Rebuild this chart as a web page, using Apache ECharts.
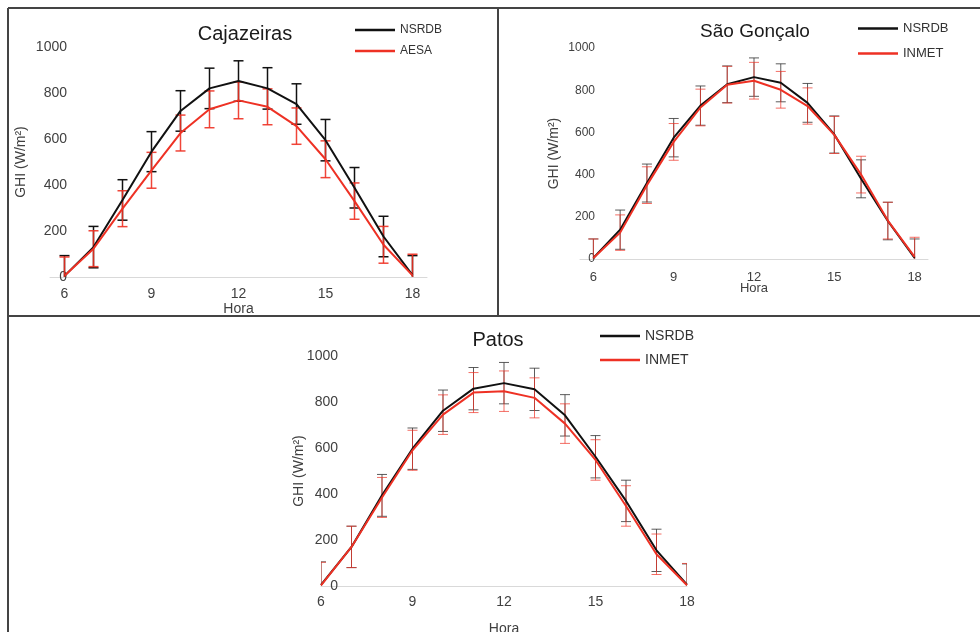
<!DOCTYPE html>
<html>
<head>
<meta charset="utf-8">
<script src="https://cdn.jsdelivr.net/npm/echarts@6/dist/echarts.min.js"></script>
<style>
  html, body { margin: 0; padding: 0; background: #fff; }
  #chart { width: 980px; height: 632px; }
</style>
</head>
<body>
<div id="chart"></div>
<script>
// hours of the day on x
const hours = [6, 7, 8, 9, 10, 11, 12, 13, 14, 15, 16, 17, 18]
const hourTicks = [6, 9, 12, 15, 18]

// Cajazeiras
const cajNsrdb = [5, 130, 335, 545, 722, 820, 852, 820, 752, 595, 388, 176, 8]
const cajNsrdbErr = [88, 90, 88, 87, 88, 88, 88, 90, 88, 90, 88, 88, 85]
const cajAesa = [5, 123, 297, 464, 626, 729, 768, 740, 656, 512, 330, 140, 7]
const cajAesaErr = [82, 78, 78, 78, 78, 80, 80, 78, 79, 80, 79, 80, 92]

// São Gonçalo
const sgNsrdb = [5, 139, 360, 575, 727, 828, 862, 835, 740, 590, 380, 180, 5]
const sgNsrdbErr = [90, 93, 90, 91, 93, 87, 91, 90, 92, 88, 90, 89, 90]
const sgInmet = [5, 125, 350, 555, 718, 826, 845, 802, 725, 588, 400, 182, 10]
const sgInmetErr = [90, 84, 87, 87, 87, 87, 87, 87, 86, 88, 87, 87, 93]

// Patos
const patNsrdb = [5, 170, 394, 597, 762, 858, 882, 855, 742, 562, 370, 155, 6]
const patNsrdbErr = [100, 90, 91, 90, 90, 92, 90, 92, 90, 92, 90, 92, 90]
const patInmet = [3, 170, 385, 590, 745, 841, 847, 818, 706, 548, 348, 138, 3]
const patInmetErr = [100, 90, 87, 87, 86, 87, 88, 87, 86, 88, 88, 88, 95]

const FONT = "Liberation Sans, Arial, sans-serif"
const BLACK = "#111111"
const RED = "#ee3124"

const pairs = (ys) => hours.map((h, i) => [h, ys[i]])
const bars = (ys, err) => hours.map((h, i) => [h, ys[i] - err[i], ys[i] + err[i]])

function lineSeries(name, idx, ys, color) {
  return {
    name: name,
    type: "line",
    xAxisIndex: idx,
    yAxisIndex: idx,
    symbol: "none",
    lineStyle: { color: color, width: 2 },
    itemStyle: { color: color },
    data: pairs(ys),
    z: 3
  }
}

function errSeries(idx, ys, err, color, width, opacity) {
  return {
    type: "custom",
    xAxisIndex: idx,
    yAxisIndex: idx,
    clip: true,
    silent: true,
    z: 2,
    renderItem: function (params, api) {
      const lo = api.coord([api.value(0), api.value(1)])
      const hi = api.coord([api.value(0), api.value(2)])
      const half = 5
      const style = { stroke: color, lineWidth: width, opacity: opacity }
      return {
        type: "group",
        children: [
          { type: "line", shape: { x1: hi[0], y1: hi[1], x2: lo[0], y2: lo[1] }, style: style },
          { type: "line", shape: { x1: hi[0] - half, y1: hi[1], x2: hi[0] + half, y2: hi[1] }, style: style },
          { type: "line", shape: { x1: lo[0] - half, y1: lo[1], x2: lo[0] + half, y2: lo[1] }, style: style }
        ]
      }
    },
    encode: { x: 0, y: [1, 2] },
    data: bars(ys, err)
  }
}

function xAxis(idx, min, max, labelMargin, nameGap, fontSize, opts) {
  return Object.assign({
    type: "value",
    gridIndex: idx,
    min: min,
    max: max,
    name: "Hora",
    nameLocation: "middle",
    nameGap: nameGap,
    nameMoveOverlap: false,
    nameTextStyle: { fontFamily: FONT, fontSize: fontSize, color: "#404040" },
    axisLine: { lineStyle: { color: "#d9d9d9", width: 1 } },
    axisTick: { show: false },
    splitLine: { show: false },
    axisLabel: {
      fontFamily: FONT, fontSize: fontSize, color: "#404040", margin: labelMargin,
      customValues: hourTicks
    }
  }, opts || {})
}

function yAxis(idx, labelMargin, nameGap, fontSize, nameSize) {
  return {
    type: "value",
    gridIndex: idx,
    min: 0,
    max: 1000,
    interval: 200,
    name: "GHI (W/m²)",
    nameLocation: "middle",
    nameGap: nameGap,
    nameMoveOverlap: false,
    nameRotate: 90,
    nameTextStyle: { fontFamily: FONT, fontSize: nameSize, color: "#404040" },
    axisLine: { show: false },
    axisTick: { show: false },
    splitLine: { show: false },
    axisLabel: {
      fontFamily: FONT, fontSize: fontSize, color: "#404040", margin: labelMargin,
      formatter: (v) => String(v)
    }
  }
}

function legend(left, top, gap, fontSize, names) {
  return {
    orient: "vertical",
    left: left,
    top: top,
    icon: "rect",
    itemWidth: 40,
    itemHeight: 2.5,
    itemGap: gap,
    selectedMode: false,
    textStyle: { fontFamily: FONT, fontSize: fontSize, color: "#333" },
    data: names
  }
}

function title(text, cx, top, size) {
  return {
    text: text,
    left: cx,
    top: top,
    textAlign: "center",
    textStyle: { fontFamily: FONT, fontSize: size, fontWeight: "normal", color: "#1a1a1a" }
  }
}

const frame = { stroke: "#444", lineWidth: 2 }

const chart = echarts.init(document.getElementById("chart"), null, { renderer: "canvas" })
chart.setOption({
  backgroundColor: "#ffffff",
  animation: false,
  title: [
    title("Cajazeiras", 240, 19, 20),
    title("São Gonçalo", 750, 17, 19),
    title("Patos", 493, 325, 20)
  ],
  legend: [
    legend(350, 19, 9, 12, ["NSRDB", "AESA"]),
    legend(853, 17, 12, 13, ["NSRDB", "INMET"]),
    legend(595, 324, 10, 14, ["NSRDB", "INMET"])
  ],
  grid: [
    { left: 50, top: 47, width: 377, height: 230, outerBoundsMode: "none" },
    { left: 580, top: 48, width: 348, height: 211, outerBoundsMode: "none" },
    { left: 321, top: 356, width: 366, height: 230, outerBoundsMode: "none" }
  ],
  xAxis: [
    xAxis(0, 5.5, 18.5, 10, 25, 14),
    xAxis(1, 5.5, 18.5, 12, 23, 13),
    xAxis(2, 6, 18, 9, 36, 14, { interval: 3, axisLabel: { fontFamily: FONT, fontSize: 14, color: "#404040", margin: 9 } })
  ],
  yAxis: [
    yAxis(0, -17, 22, 14, 14),
    yAxis(1, -15, 19, 12, 14),
    yAxis(2, -17, 15, 14, 14)
  ],
  graphic: [
    { type: "line", shape: { x1: 8, y1: 8, x2: 980, y2: 8 }, style: frame },
    { type: "line", shape: { x1: 8, y1: 8, x2: 8, y2: 632 }, style: frame },
    { type: "line", shape: { x1: 8, y1: 316, x2: 980, y2: 316 }, style: frame },
    { type: "line", shape: { x1: 498, y1: 8, x2: 498, y2: 316 }, style: frame }
  ],
  series: [
    errSeries(0, cajNsrdb, cajNsrdbErr, BLACK, 1.5, 1),
    errSeries(0, cajAesa, cajAesaErr, RED, 1.5, 0.9),
    lineSeries("NSRDB", 0, cajNsrdb, BLACK),
    lineSeries("AESA", 0, cajAesa, RED),

    errSeries(1, sgNsrdb, sgNsrdbErr, "#333", 1, 0.8),
    errSeries(1, sgInmet, sgInmetErr, RED, 1, 0.7),
    lineSeries("NSRDB", 1, sgNsrdb, BLACK),
    lineSeries("INMET", 1, sgInmet, RED),

    errSeries(2, patNsrdb, patNsrdbErr, "#333", 1, 0.8),
    errSeries(2, patInmet, patInmetErr, RED, 1, 0.7),
    lineSeries("NSRDB", 2, patNsrdb, BLACK),
    lineSeries("INMET", 2, patInmet, RED)
  ]
})
</script>
</body>
</html>
